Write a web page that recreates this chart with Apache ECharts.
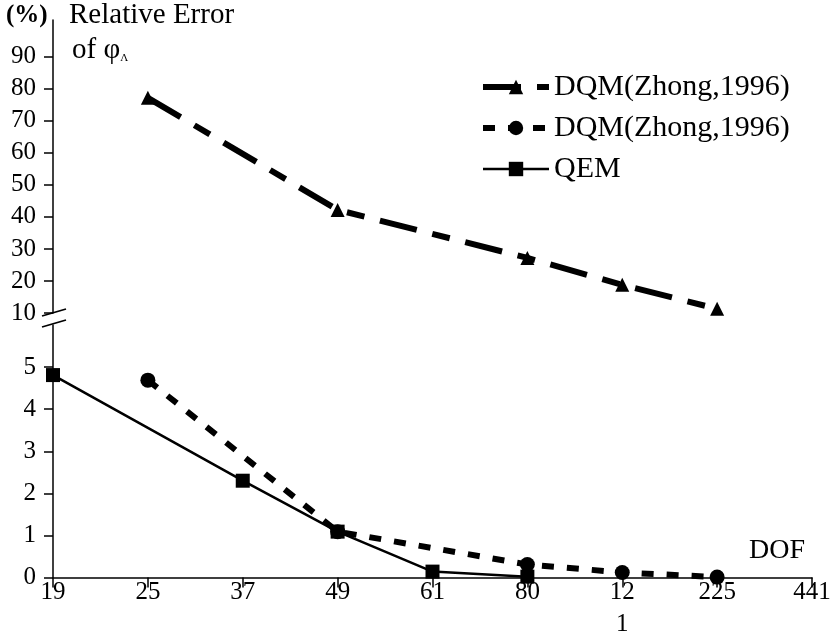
<!DOCTYPE html>
<html>
<head>
<meta charset="utf-8">
<script src="https://cdn.jsdelivr.net/npm/echarts@6/dist/echarts.min.js"></script>
<style>
  html, body { margin: 0; padding: 0; background: #fff; }
  #chart { width: 836px; height: 637px; }
</style>
</head>
<body>
<div id="chart"></div>
<script>
// DOF categories along the x axis
var dof = ['19', '25', '37', '49', '61', '80', '121', '225', '441'];

// relative error (%) per DOF, null where the method has no point
var dqmTri = [null, 77.2, null, 42.2, null, 27.2, 18.8, 11.3, null];
var dqmDot = [null, 4.69, null, 1.09, null, 0.31, 0.12, 0.01, null];
var qem    = [4.81, null, 2.3, 1.09, 0.14, 0.02, null, null, null];

// tick labels of the broken y axis
var upperTicks = [10, 20, 30, 40, 50, 60, 70, 80, 90];
var lowerTicks = [0, 1, 2, 3, 4, 5];

var FONT = 'Liberation Serif';
var chart = echarts.init(document.getElementById('chart'));

var axisLine = { lineStyle: { color: '#000', width: 1.5 } };

var option = {
    backgroundColor: '#fff',
    animation: false,
    textStyle: { fontFamily: FONT, color: '#000' },
    grid: [
        { left: 53, right: 24, top: 20, height: 293 },
        { left: 53, right: 24, top: 325, height: 253 }
    ],
    legend: {
        left: 475,
        top: 67,
        orient: 'vertical',
        itemWidth: 66,
        itemHeight: 18,
        itemGap: 11,
        lineStyle: { width: 'inherit', type: 'inherit' },
        textStyle: { fontFamily: FONT, fontSize: 30, color: '#000' },
        data: ['DQM(Zhong,1996)', 'DQM(Zhong,1996) ', 'QEM']
    },
    xAxis: [
        {
            gridIndex: 0, type: 'category', data: dof, boundaryGap: false,
            show: false
        },
        {
            gridIndex: 1, type: 'category', data: dof, boundaryGap: false,
            axisLine: axisLine,
            axisTick: { length: 10, interval: 0, lineStyle: { color: '#000', width: 1.5 } },
            axisLabel: {
                interval: 0,
                hideOverlap: false,
                margin: 3,
                color: '#000',
                fontFamily: FONT,
                fontSize: 25,
                formatter: function (v) {
                    if (v === '121') return '{a|12}\n{b|1}';
                    return '{a|' + v + '}';
                },
                rich: {
                    a: { fontFamily: FONT, fontSize: 25, lineHeight: 24, color: '#000' },
                    b: { fontFamily: FONT, fontSize: 25, lineHeight: 40, color: '#000' }
                }
            },
            splitLine: { show: false }
        }
    ],
    yAxis: [
        {
            gridIndex: 0, type: 'value', min: 10, max: 101.5,
            axisLine: { show: true, lineStyle: { color: '#000', width: 1.5 } },
            axisTick: { show: true, length: 9, customValues: upperTicks,
                        lineStyle: { color: '#000', width: 1.5 } },
            axisLabel: { margin: 17, color: '#000', fontFamily: FONT, fontSize: 25,
                         customValues: upperTicks },
            splitLine: { show: false }
        },
        {
            gridIndex: 1, type: 'value', min: 0, max: 6,
            axisLine: { show: true, lineStyle: { color: '#000', width: 1.5 } },
            axisTick: { show: true, length: 9, customValues: lowerTicks,
                        lineStyle: { color: '#000', width: 1.5 } },
            axisLabel: { margin: 17, color: '#000', fontFamily: FONT, fontSize: 25,
                         customValues: lowerTicks },
            splitLine: { show: false }
        }
    ],
    series: [
        {
            name: 'DQM(Zhong,1996)',
            type: 'line',
            xAxisIndex: 0, yAxisIndex: 0,
            data: dqmTri,
            connectNulls: true,
            symbol: 'triangle',
            symbolSize: 14,
            itemStyle: { color: '#000' },
            lineStyle: { color: '#000', width: 6, type: [38, 16, 18, 16] }
        },
        {
            name: 'DQM(Zhong,1996) ',
            type: 'line',
            xAxisIndex: 1, yAxisIndex: 1,
            data: dqmDot,
            connectNulls: true,
            symbol: 'circle',
            symbolSize: 15,
            itemStyle: { color: '#000' },
            lineStyle: { color: '#000', width: 6, type: [12, 13] }
        },
        {
            name: 'QEM',
            type: 'line',
            xAxisIndex: 1, yAxisIndex: 1,
            data: qem,
            connectNulls: true,
            symbol: 'rect',
            symbolSize: 14,
            itemStyle: { color: '#000' },
            lineStyle: { color: '#000', width: 2.5 }
        }
    ],
    graphic: [
        { type: 'text', left: 6, top: 3,
          style: { text: '(%)', font: 'bold 25px "Liberation Serif"', fill: '#000' } },
        { type: 'text', left: 69, top: 1,
          style: { text: 'Relative Error', font: '29px "Liberation Serif"', fill: '#000' } },
        { type: 'text', left: 72, top: 36,
          style: {
              text: 'of φ{s|Λ}',
              font: '29px "Liberation Serif"', fill: '#000',
              rich: { s: { fontSize: 11, fontFamily: FONT, padding: [16, 0, 0, 0], fill: '#000' } }
          } },
        { type: 'text', left: 749, top: 537,
          style: { text: 'DOF', font: '28px "Liberation Serif"', fill: '#000' } },
        // axis break marks
        { type: 'line', shape: { x1: 42, y1: 316, x2: 66, y2: 309 },
          style: { stroke: '#000', lineWidth: 1.8 } },
        { type: 'line', shape: { x1: 42, y1: 327, x2: 66, y2: 320 },
          style: { stroke: '#000', lineWidth: 1.8 } }
    ]
};

chart.setOption(option);
window.addEventListener('resize', function () {
    chart.resize();
});
</script>
</body>
</html>
